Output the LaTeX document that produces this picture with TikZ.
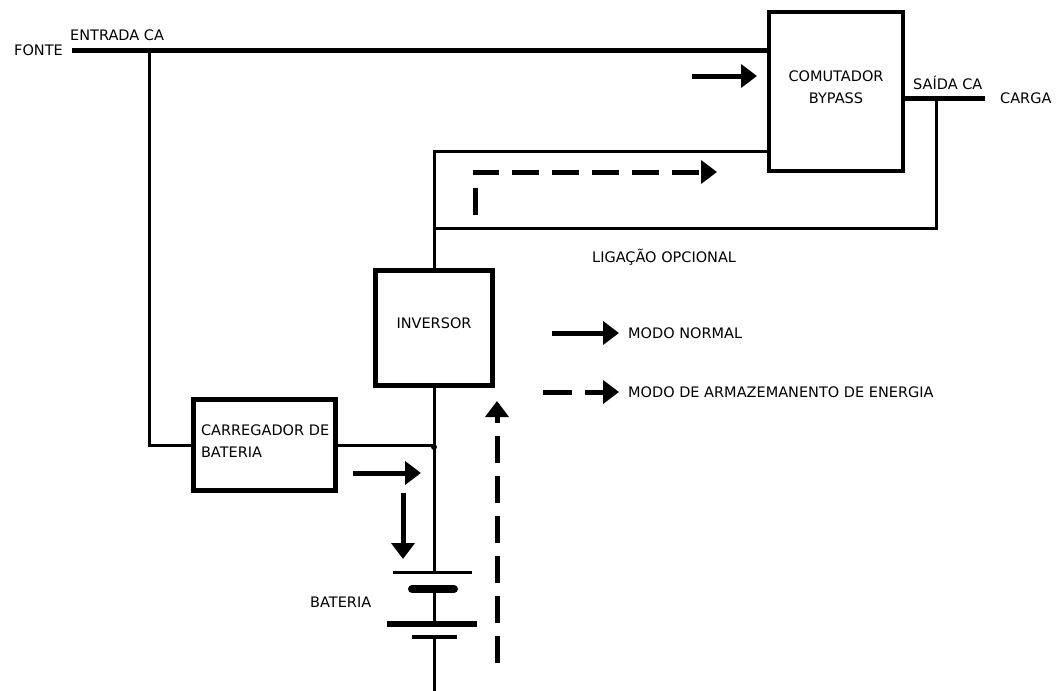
\documentclass[tikz,border=0pt]{standalone}
\usepackage{fontspec}
\setmainfont{DejaVu Sans}
\usetikzlibrary{arrows.meta}

\tikzset{
  blk/.style={draw,line width=4pt,inner sep=0pt},
  lbl/.style={inner sep=0pt,font=\fontsize{14.5}{22}\selectfont},
  bus/.style={line width=5pt},
  wire/.style={line width=3pt},
  flow/.style={line width=5pt,-{Triangle[length=16pt,width=23pt]}},
  stor/.style={flow,dash pattern=on 27pt off 13pt},
}

\begin{document}
\begin{tikzpicture}[x=1pt,y=-1pt]
\useasboundingbox (0,0) rectangle (1058,691);

% Blocks
\node[blk,minimum width=134pt,minimum height=159pt,label={[lbl,align=center,yshift=4pt]center:COMUTADOR\\BYPASS}] (byp) at (836,91.5) {};
\node[blk,line width=5pt,minimum width=117pt,minimum height=115pt,label={[lbl,yshift=5pt]center:INVERSOR}] (inv) at (434,328) {};
\node[blk,line width=5pt,minimum width=142pt,minimum height=91pt,label={[lbl,align=left,text width=136pt,xshift=5pt,yshift=4pt]center:CARREGADOR DE\\BATERIA}] (chg) at (264,445) {};

% Labels
\node[lbl,anchor=east] (fonte) at (63,50) {FONTE};
\node[lbl,anchor=west] (entrada) at (70,35) {ENTRADA CA};
\node[lbl,anchor=west] (saida) at (913,83) {SAÍDA CA};
\node[lbl,anchor=west] (carga) at (1000,98) {CARGA};
\node[lbl,anchor=west] (opcional) at (592,257) {LIGAÇÃO OPCIONAL};
\node[lbl,anchor=west] (bateria) at (310,602) {BATERIA};
\node[lbl,anchor=west] (normal) at (628,333) {MODO NORMAL};
\node[lbl,anchor=west] (armaz) at (628,392) {MODO DE ARMAZEMANENTO DE ENERGIA};

% Junctions
\coordinate (tap) at (149,50);
\coordinate (byin) at (769,151);
\coordinate (opt) at (936,98);
\coordinate (optl) at (434,228);
\coordinate (load) at (985,98);
\coordinate (jn) at (434,447);
\coordinate (bt) at (434,572);

% Input bus and charger feed
\draw[bus] ([xshift=9pt]fonte.east) -- (fonte.east -| byp.west);
\draw[wire] (tap) |- (chg.west);
\draw[wire] (chg.east) -- (chg.east -| jn);
\fill (jn) circle (3pt);

% Inverter output and optional link
\draw[wire] (inv.north) |- (byin);
\draw[wire] (opt) |- (optl);
\draw[bus] (byp.east |- load) -- (load);
\draw[wire] (inv.south) -- (bt);

% Battery
\draw[wire] (393,572) -- (472,572);
\draw[line width=8pt,line cap=round] (412,589) -- (454,589);
\draw[wire] (434,589) -- (434,624);
\draw[line width=6pt] (387,624) -- (477,624);
\draw[line width=4pt] (412,637) -- (457,637);
\draw[wire] (434,637) -- (434,691);

% Flow arrows
\draw[flow] (692,76) -- (757,76);
\draw[stor] (475,215) |- (717,172);
\draw[flow] (353,473) -- (421,473);
\draw[flow] (403,493) -- (403,559);
\draw[stor] (497,663) -- (497,401);

% Legend
\draw[flow] (552,333) -- (619,333);
\draw[stor,dash pattern=on 29pt off 13pt] (543,392) -- (619,392);
\end{tikzpicture}
\end{document}
